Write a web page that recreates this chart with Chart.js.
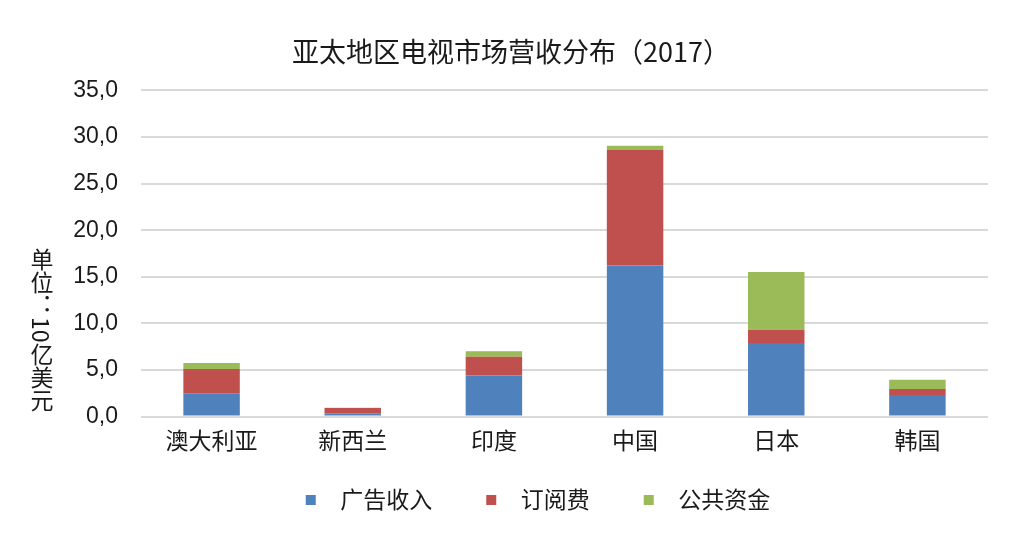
<!DOCTYPE html>
<html>
<head>
<meta charset="utf-8">
<script src="https://cdn.jsdelivr.net/npm/chart.js@4/dist/chart.umd.min.js"></script>
<style>
  body { margin: 0; background: #fff; }
  #wrap { position: relative; width: 1014px; height: 538px; }
  #yTitle {
    position: absolute; left: 30px; top: 248px;
    writing-mode: vertical-rl; text-orientation: mixed;
    font: 23px "Noto Sans CJK SC", sans-serif; line-height: 23px; color: #1a1a1a;
  }
</style>
</head>
<body>
<div id="wrap">
  <canvas id="chart" width="1014" height="538"></canvas>
  <div id="yTitle">单位：10亿美元</div>
</div>
<script>
// Data
const regions = ["澳大利亚", "新西兰", "印度", "中国", "日本", "韩国"];
const adRevenue = [2.5, 0.35, 4.4, 16.2, 7.9, 2.3];
const subscription = [2.6, 0.55, 2.0, 12.4, 1.4, 0.65];
const publicFunding = [0.65, 0.05, 0.6, 0.45, 6.2, 1.0];
const seriesNames = ["广告收入", "订阅费", "公共资金"];
const colors = ["#4f81bd", "#c0504d", "#9bbb59"];

const cjk = '"Noto Sans CJK SC", sans-serif';
const num = '"Liberation Sans", "Noto Sans CJK SC", sans-serif';

// legend marker: square with blank space in front of it
const MARK_W = 77;
function legendMarker(color) {
  const c = document.createElement("canvas");
  c.width = MARK_W;
  c.height = 10;
  const g = c.getContext("2d");
  g.fillStyle = color;
  g.fillRect(54, 0, 10, 10);
  return c;
}

Chart.defaults.color = "#1a1a1a";

new Chart(document.getElementById("chart"), {
  type: "bar",
  data: {
    labels: regions,
    datasets: [
      { label: seriesNames[0], data: adRevenue, backgroundColor: colors[0] },
      { label: seriesNames[1], data: subscription, backgroundColor: colors[1] },
      { label: seriesNames[2], data: publicFunding, backgroundColor: colors[2] },
    ],
  },
  options: {
    responsive: false,
    animation: false,
    layout: { padding: { left: 8, right: 0, top: 0, bottom: 17 } },
    datasets: { bar: { categoryPercentage: 1, barPercentage: 0.4 } },
    plugins: {
      title: {
        display: true,
        text: "亚太地区电视市场营收分布（2017）",
        color: "#1a1a1a",
        font: { family: cjk, size: 27, weight: "normal" },
        padding: { top: 36, bottom: 22 },
      },
      legend: {
        position: "bottom",
        labels: {
          usePointStyle: true,
          pointStyleWidth: MARK_W,
          boxHeight: 10,
          padding: 0,
          color: "#1a1a1a",
          font: { family: cjk, size: 23 },
          generateLabels(chart) {
            const items = Chart.defaults.plugins.legend.labels.generateLabels(chart);
            items.forEach((item, i) => { item.pointStyle = legendMarker(colors[i]); });
            return items;
          },
        },
      },
      tooltip: { enabled: false },
    },
    scales: {
      x: {
        stacked: true,
        grid: { display: false },
        border: { display: false },
        ticks: { padding: 2, color: "#1a1a1a", font: { family: cjk, size: 23 } },
        afterFit(scale) { scale.height = 71.5; },
      },
      y: {
        stacked: true,
        min: 0,
        max: 35,
        border: { display: false },
        grid: { color: "#d9d9d9", lineWidth: 2, drawTicks: false },
        ticks: {
          stepSize: 5,
          padding: 23,
          color: "#1a1a1a",
          font: { family: num, size: 23 },
          callback: (v) => v.toFixed(1).replace(".", ","),
        },
        afterFit(scale) { scale.width = 133; },
      },
      // empty right margin so the title and legend centre like the original
      yRight: {
        position: "right",
        grid: { display: false },
        border: { display: false },
        ticks: { display: false },
        afterFit(scale) { scale.width = 26; },
      },
    },
  },
});
</script>
</body>
</html>
